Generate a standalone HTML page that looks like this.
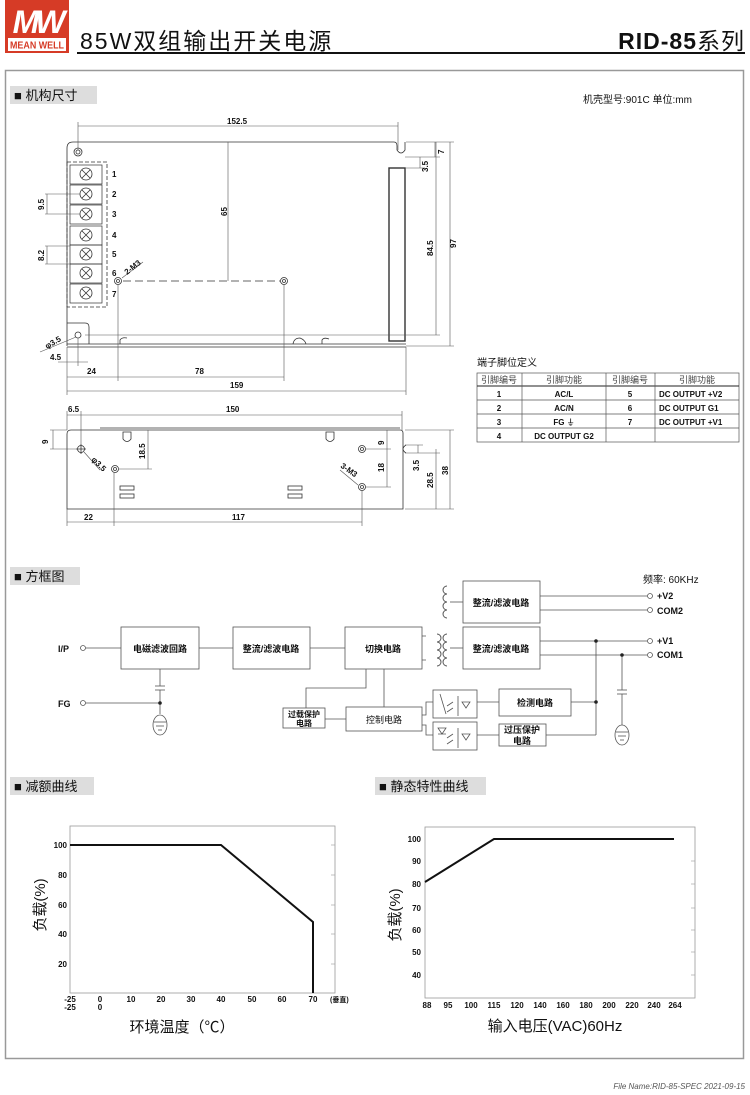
<!DOCTYPE html>
<html><head><meta charset="utf-8"><style>
html,body{margin:0;padding:0;background:#fff;}
svg{display:block;}
text{font-family:"Liberation Sans","Noto Sans CJK SC",sans-serif;fill:#111;}
.s{font-size:8px;font-weight:bold;}
.c{font-size:9px;font-weight:bold;}
</style></head><body>
<svg width="750" height="1095" viewBox="0 0 750 1095" xmlns="http://www.w3.org/2000/svg">
<!-- header -->
<rect x="5" y="0" width="64" height="53" fill="#d63b26"/>
<text x="37" y="33" text-anchor="middle" style="font-size:32px;font-style:italic;font-weight:bold;fill:#fff;letter-spacing:-4px">MW</text>
<rect x="8" y="38" width="58" height="13" fill="#fff"/>
<text x="37" y="48.5" text-anchor="middle" textLength="54" lengthAdjust="spacingAndGlyphs" style="font-size:10px;font-weight:bold;fill:#d63b26">MEAN WELL</text>
<text x="80" y="49" style="font-size:23px;letter-spacing:2px">85W双组输出开关电源</text>
<text x="745" y="49" text-anchor="end" style="font-size:23px;font-weight:bold;letter-spacing:1px">RID-85<tspan style="font-weight:normal">系列</tspan></text>
<rect x="77" y="52" width="668" height="2" fill="#111"/>
<!-- frame -->
<rect x="5.5" y="70.5" width="738" height="988" fill="none" stroke="#999" stroke-width="1.5"/>
<!-- section headers -->
<g style="font-size:13px">
<rect x="10" y="86" width="87" height="18" fill="#ddd"/><text x="14" y="100">■ 机构尺寸</text>
<rect x="10" y="567" width="70" height="18" fill="#ddd"/><text x="14" y="581">■ 方框图</text>
<rect x="10" y="777" width="84" height="18" fill="#ddd"/><text x="14" y="791">■ 减额曲线</text>
<rect x="375" y="777" width="111" height="18" fill="#ddd"/><text x="379" y="791">■ 静态特性曲线</text>
</g>
<text x="583" y="103" style="font-size:10px">机壳型号:901C 单位:mm</text>

<!-- top view -->
<g fill="none" stroke="#333" stroke-width="0.8">
<path d="M67,346 V148 Q67,142 73,142 H394 Q397,142 397,146 V150 Q401,156 405,150 V142"/>
<line x1="67" y1="344" x2="406" y2="344"/><line x1="67" y1="347" x2="406" y2="347"/>
<rect x="389" y="168" width="16" height="173" stroke-width="1.4"/>
<rect x="67" y="162" width="40" height="145" stroke-dasharray="4,2"/>
<g stroke-width="0.7">
<rect x="70" y="165" width="32" height="19"/><rect x="70" y="185" width="32" height="19"/><rect x="70" y="205" width="32" height="19"/><rect x="70" y="226" width="32" height="19"/><rect x="70" y="245" width="32" height="19"/><rect x="70" y="264" width="32" height="19"/><rect x="70" y="284" width="32" height="19"/>
</g>
<circle cx="78" cy="152" r="4"/><circle cx="78" cy="152" r="2"/>
<circle cx="118" cy="281" r="3.5"/><circle cx="118" cy="281" r="1.5"/>
<circle cx="284" cy="281" r="3.5"/><circle cx="284" cy="281" r="1.5"/>
<line x1="123" y1="281" x2="280" y2="281" stroke-dasharray="8,4"/>
<path d="M67,323 H85 Q89,323 89,327 V344"/><circle cx="78" cy="335" r="3"/>
<path d="M120,344 V340 Q122,337 127,338"/><path d="M293,344 Q294,338 300,338 Q305,340 306,344"/><path d="M322,344 V340 Q324,337 329,339"/>
<g stroke="#555" stroke-width="0.6">
<line x1="78" y1="126" x2="398" y2="126"/><line x1="78" y1="122" x2="78" y2="150"/><line x1="398" y1="122" x2="398" y2="150"/>
<line x1="228" y1="142" x2="228" y2="281"/>
<line x1="450" y1="142" x2="450" y2="346"/><line x1="406" y1="142" x2="454" y2="142"/><line x1="406" y1="346" x2="454" y2="346"/>
<line x1="436" y1="142" x2="436" y2="335"/><line x1="85" y1="335" x2="440" y2="335"/>
<line x1="435" y1="142" x2="435" y2="157"/><line x1="405" y1="157" x2="440" y2="157"/>
<line x1="420" y1="157" x2="420" y2="168"/><line x1="405" y1="168" x2="425" y2="168"/>
<line x1="47" y1="194" x2="47" y2="214"/><line x1="45" y1="194" x2="80" y2="194"/><line x1="45" y1="214" x2="80" y2="214"/>
<line x1="47" y1="246" x2="47" y2="264"/><line x1="45" y1="246" x2="70" y2="246"/><line x1="45" y1="264" x2="70" y2="264"/>
<line x1="40" y1="352" x2="76" y2="337"/>
<line x1="58" y1="362" x2="88" y2="362"/><line x1="78" y1="338" x2="78" y2="366"/>
<line x1="67" y1="377" x2="284" y2="377"/><line x1="118" y1="285" x2="118" y2="381"/><line x1="284" y1="285" x2="284" y2="381"/>
<line x1="67" y1="391" x2="406" y2="391"/><line x1="67" y1="347" x2="67" y2="395"/><line x1="406" y1="347" x2="406" y2="395"/>
<line x1="122" y1="278" x2="143" y2="262"/>
</g>
</g>
<g stroke="#333" stroke-width="0.8" fill="none">
<g id="tx"><circle cx="86" cy="174" r="6"/><path d="M82,170 L90,178 M90,170 L82,178"/></g>
<use href="#tx" y="20"/><use href="#tx" y="40"/><use href="#tx" y="61"/><use href="#tx" y="80"/><use href="#tx" y="99"/><use href="#tx" y="119"/>
</g>
<g class="s">
<text x="112" y="177">1</text><text x="112" y="197">2</text><text x="112" y="217">3</text><text x="112" y="238">4</text><text x="112" y="257">5</text><text x="112" y="276">6</text><text x="112" y="297">7</text>
<text x="227" y="124">152.5</text>
<text transform="translate(227,216) rotate(-90)">65</text>
<text transform="translate(456,248) rotate(-90)">97</text>
<text transform="translate(433,256) rotate(-90)">84.5</text>
<text transform="translate(444,154) rotate(-90)">7</text>
<text transform="translate(428,172) rotate(-90)">3.5</text>
<text transform="translate(44,210) rotate(-90)">9.5</text>
<text transform="translate(44,261) rotate(-90)">8.2</text>
<text transform="translate(127,275) rotate(-38)">2-M3</text>
<text transform="translate(47,349) rotate(-30)">φ3.5</text>
<text x="50" y="360">4.5</text>
<text x="87" y="374">24</text><text x="195" y="374">78</text><text x="230" y="388">159</text>
</g>

<!-- side view -->
<g fill="none" stroke="#333" stroke-width="0.8">
<path d="M67,509 V434 Q67,430 71,430 H400 Q403,430 403,433 V509 Z"/>
<line x1="100" y1="428" x2="400" y2="428"/>
<path d="M406,445 Q400,449 406,453"/>
<circle cx="81" cy="449" r="3.5"/><path d="M76,449 H86 M81,444 V454"/>
<circle cx="115" cy="469" r="3.5"/><circle cx="115" cy="469" r="1.5"/>
<circle cx="362" cy="449" r="3.5"/><circle cx="362" cy="449" r="1.5"/>
<circle cx="362" cy="487" r="3.5"/><circle cx="362" cy="487" r="1.5"/>
<path d="M123,432 H131 V439 Q127,444 123,439 Z"/><path d="M326,432 H334 V439 Q330,444 326,439 Z"/>
<rect x="120" y="486" width="14" height="4"/><rect x="120" y="494" width="14" height="4"/>
<rect x="288" y="486" width="14" height="4"/><rect x="288" y="494" width="14" height="4"/>
<g stroke="#555" stroke-width="0.6">
<line x1="67" y1="415" x2="402" y2="415"/><line x1="67" y1="411" x2="67" y2="430"/><line x1="81" y1="411" x2="81" y2="449"/><line x1="402" y1="411" x2="402" y2="430"/>
<line x1="53" y1="430" x2="53" y2="449"/><line x1="50" y1="430" x2="67" y2="430"/><line x1="50" y1="449" x2="78" y2="449"/>
<line x1="148" y1="430" x2="148" y2="469"/><line x1="119" y1="469" x2="152" y2="469"/>
<line x1="387" y1="430" x2="387" y2="487"/><line x1="366" y1="449" x2="391" y2="449"/><line x1="366" y1="487" x2="391" y2="487"/>
<line x1="418" y1="445" x2="418" y2="453"/><line x1="405" y1="445" x2="423" y2="445"/><line x1="405" y1="453" x2="440" y2="453"/>
<line x1="436" y1="449" x2="436" y2="509"/><line x1="450" y1="430" x2="450" y2="509"/>
<line x1="405" y1="430" x2="454" y2="430"/><line x1="405" y1="509" x2="454" y2="509"/>
<line x1="67" y1="522" x2="362" y2="522"/><line x1="67" y1="509" x2="67" y2="526"/><line x1="114" y1="473" x2="114" y2="526"/><line x1="362" y1="491" x2="362" y2="526"/>
<line x1="84" y1="452" x2="100" y2="470"/><line x1="340" y1="470" x2="358" y2="485"/>
</g>
</g>
<g class="s">
<text x="68" y="412">6.5</text><text x="226" y="412">150</text>
<text transform="translate(48,444) rotate(-90)">9</text>
<text transform="translate(145,459) rotate(-90)">18.5</text>
<text transform="translate(384,445) rotate(-90)">9</text>
<text transform="translate(384,472) rotate(-90)">18</text>
<text transform="translate(419,471) rotate(-90)">3.5</text>
<text transform="translate(433,488) rotate(-90)">28.5</text>
<text transform="translate(448,475) rotate(-90)">38</text>
<text transform="translate(91,460) rotate(45)">φ3.5</text>
<text transform="translate(340,467) rotate(35)">3-M3</text>
<text x="84" y="520">22</text><text x="232" y="520">117</text>
</g>

<!-- table -->
<text x="477" y="366" style="font-size:10px">端子脚位定义</text>
<g stroke="#555" stroke-width="0.7" fill="none">
<rect x="477" y="373" width="262" height="69"/>
<line x1="477" y1="386" x2="739" y2="386" stroke="#222" stroke-width="1"/>
<line x1="477" y1="400" x2="739" y2="400"/><line x1="477" y1="414" x2="739" y2="414"/><line x1="477" y1="428" x2="739" y2="428"/>
<line x1="522" y1="373" x2="522" y2="442"/><line x1="606" y1="373" x2="606" y2="442"/><line x1="655" y1="373" x2="655" y2="442"/>
</g>
<g style="font-size:9px" text-anchor="middle">
<text x="499" y="383" style="fill:#444">引脚编号</text><text x="564" y="383" style="fill:#444">引脚功能</text><text x="630" y="383" style="fill:#444">引脚编号</text><text x="697" y="383" style="fill:#444">引脚功能</text>
</g>
<g class="s" text-anchor="middle">
<text x="499" y="397">1</text><text x="564" y="397">AC/L</text><text x="630" y="397">5</text>
<text x="499" y="411">2</text><text x="564" y="411">AC/N</text><text x="630" y="411">6</text>
<text x="499" y="425">3</text><text x="564" y="425">FG ⏚</text><text x="630" y="425">7</text>
<text x="499" y="439">4</text><text x="564" y="439">DC OUTPUT G2</text>
</g>
<g class="s"><text x="659" y="397">DC OUTPUT +V2</text><text x="659" y="411">DC OUTPUT G1</text><text x="659" y="425">DC OUTPUT +V1</text></g>

<!-- block diagram -->
<g fill="none" stroke="#555" stroke-width="0.8">
<rect x="121" y="627" width="78" height="42"/><rect x="233" y="627" width="77" height="42"/><rect x="345" y="627" width="77" height="42"/>
<rect x="463" y="581" width="77" height="42"/><rect x="463" y="627" width="77" height="42"/>
<rect x="499" y="689" width="72" height="27"/><rect x="499" y="724" width="47" height="22"/>
<rect x="433" y="690" width="44" height="28"/><rect x="433" y="722" width="44" height="28"/>
<rect x="346" y="707" width="76" height="24"/><rect x="283" y="708" width="42" height="20"/>
<circle cx="83" cy="648" r="2.5"/><circle cx="83" cy="703" r="2.5"/>
<line x1="86" y1="648" x2="121" y2="648"/><line x1="199" y1="648" x2="233" y2="648"/><line x1="310" y1="648" x2="345" y2="648"/>
<line x1="86" y1="703" x2="160" y2="703"/>
<line x1="160" y1="669" x2="160" y2="686"/><line x1="155" y1="686" x2="165" y2="686"/><line x1="155" y1="690" x2="165" y2="690"/><line x1="160" y1="690" x2="160" y2="714"/>
<ellipse cx="160" cy="725" rx="7" ry="10"/><line x1="154" y1="722" x2="166" y2="722"/><line x1="156" y1="726" x2="164" y2="726"/><line x1="158" y1="730" x2="162" y2="730"/>
<path d="M422,636 H426 M422,660 H426"/>
<path d="M437,634 a4,4 0 1 1 0,8 a4,4 0 1 1 0,8 a4,4 0 1 1 0,8 a4,4 0 1 1 0,8" stroke-width="1"/>
<path d="M447,634 a4,4 0 1 0 0,8 a4,4 0 1 0 0,8 a4,4 0 1 0 0,8 a4,4 0 1 0 0,8" stroke-width="1"/>
<path d="M447,586 a4,4 0 1 0 0,8 a4,4 0 1 0 0,8 a4,4 0 1 0 0,8 a4,4 0 1 0 0,8" stroke-width="1"/>
<line x1="450" y1="602" x2="463" y2="602"/><line x1="450" y1="648" x2="463" y2="648"/>
<line x1="540" y1="596" x2="647" y2="596"/><line x1="540" y1="610" x2="647" y2="610"/>
<line x1="540" y1="641" x2="647" y2="641"/><line x1="540" y1="655" x2="647" y2="655"/>
<circle cx="650" cy="596" r="2.5"/><circle cx="650" cy="610" r="2.5"/><circle cx="650" cy="641" r="2.5"/><circle cx="650" cy="655" r="2.5"/>
<line x1="596" y1="641" x2="596" y2="735"/><line x1="571" y1="702" x2="596" y2="702"/><line x1="546" y1="735" x2="596" y2="735"/>
<line x1="622" y1="655" x2="622" y2="690"/><line x1="617" y1="690" x2="627" y2="690"/><line x1="617" y1="694" x2="627" y2="694"/><line x1="622" y1="694" x2="622" y2="725"/>
<ellipse cx="622" cy="735" rx="7" ry="10"/><line x1="616" y1="732" x2="628" y2="732"/><line x1="618" y1="736" x2="626" y2="736"/><line x1="620" y1="740" x2="624" y2="740"/>
<line x1="477" y1="702" x2="499" y2="702"/><line x1="477" y1="735" x2="499" y2="735"/>
<path d="M433,702 H426 V715 H422 M433,735 H426 V725 H422"/>
<path d="M366,669 V688 H306 V708"/><line x1="384" y1="707" x2="384" y2="669"/><line x1="325" y1="719" x2="346" y2="719"/>
<path d="M440,694 L446,714 M453,702 L447,706 M453,708 L447,712 M458,696 V716 M462,702 H470 L466,708 Z"/>
<path d="M438,728 H446 L442,734 Z M438,734 H446 M453,734 L447,738 M453,740 L447,744 M458,728 V748 M462,734 H470 L466,740 Z"/>
</g>
<g fill="#222"><circle cx="160" cy="703" r="1.8"/><circle cx="596" cy="641" r="1.8"/><circle cx="622" cy="655" r="1.8"/><circle cx="596" cy="702" r="1.8"/></g>
<g class="c" text-anchor="middle">
<text x="160" y="652">电磁滤波回路</text><text x="271" y="652">整流/滤波电路</text><text x="383" y="652">切换电路</text>
<text x="501" y="606">整流/滤波电路</text><text x="501" y="652">整流/滤波电路</text>
<text x="535" y="706">检测电路</text><text x="522" y="733">过压保护</text><text x="522" y="744">电路</text>
<text x="384" y="723" style="font-weight:normal">控制电路</text>
<text x="304" y="717" style="font-size:8px">过载保护</text><text x="304" y="726" style="font-size:8px">电路</text>
</g>
<g class="c"><text x="58" y="652">I/P</text><text x="58" y="707">FG</text>
<text x="657" y="599">+V2</text><text x="657" y="614">COM2</text><text x="657" y="644">+V1</text><text x="657" y="658">COM1</text>
<text x="643" y="583" style="font-size:10px;font-weight:normal">频率: 60KHz</text></g>

<!-- derating chart -->
<rect x="70" y="826" width="265" height="167" fill="none" stroke="#999" stroke-width="0.8"/>
<g stroke="#999" stroke-width="0.6"><line x1="70" y1="845" x2="74" y2="845"/><line x1="331" y1="845" x2="335" y2="845"/><line x1="331" y1="875" x2="335" y2="875"/><line x1="331" y1="905" x2="335" y2="905"/><line x1="331" y1="934" x2="335" y2="934"/><line x1="331" y1="964" x2="335" y2="964"/></g>
<polyline points="70,845 221,845 313,922 313,993" fill="none" stroke="#111" stroke-width="2"/>
<g class="s" text-anchor="end"><text x="67" y="848">100</text><text x="67" y="878">80</text><text x="67" y="908">60</text><text x="67" y="937">40</text><text x="67" y="967">20</text></g>
<g class="s" text-anchor="middle"><text x="70" y="1002">-25</text><text x="70" y="1010">-25</text><text x="100" y="1002">0</text><text x="100" y="1010">0</text><text x="131" y="1002">10</text><text x="161" y="1002">20</text><text x="191" y="1002">30</text><text x="221" y="1002">40</text><text x="252" y="1002">50</text><text x="282" y="1002">60</text><text x="313" y="1002">70</text></g>
<text x="330" y="1002" style="font-size:7px;font-weight:bold">(垂直)</text>
<text x="182" y="1032" text-anchor="middle" style="font-size:15px">环境温度（℃）</text>
<text transform="translate(45,905) rotate(-90)" text-anchor="middle" style="font-size:15px">负载(%)</text>

<!-- static chart -->
<rect x="425" y="827" width="270" height="171" fill="none" stroke="#999" stroke-width="0.8"/>
<g stroke="#999" stroke-width="0.6"><line x1="691" y1="861" x2="695" y2="861"/><line x1="691" y1="884" x2="695" y2="884"/><line x1="691" y1="908" x2="695" y2="908"/><line x1="691" y1="930" x2="695" y2="930"/><line x1="691" y1="952" x2="695" y2="952"/><line x1="691" y1="975" x2="695" y2="975"/></g>
<polyline points="425,882 494,839 674,839" fill="none" stroke="#111" stroke-width="2"/>
<g class="s" text-anchor="end"><text x="421" y="842">100</text><text x="421" y="864">90</text><text x="421" y="887">80</text><text x="421" y="911">70</text><text x="421" y="933">60</text><text x="421" y="955">50</text><text x="421" y="978">40</text></g>
<g class="s" text-anchor="middle"><text x="427" y="1008">88</text><text x="448" y="1008">95</text><text x="471" y="1008">100</text><text x="494" y="1008">115</text><text x="517" y="1008">120</text><text x="540" y="1008">140</text><text x="563" y="1008">160</text><text x="586" y="1008">180</text><text x="609" y="1008">200</text><text x="632" y="1008">220</text><text x="654" y="1008">240</text><text x="675" y="1008">264</text></g>
<text x="555" y="1031" text-anchor="middle" style="font-size:15px">输入电压(VAC)60Hz</text>
<text transform="translate(400,915) rotate(-90)" text-anchor="middle" style="font-size:15px">负载(%)</text>

<text x="745" y="1089" text-anchor="end" style="font-size:8px;font-style:italic;fill:#555">File Name:RID-85-SPEC  2021-09-15</text>
</svg>
</body></html>
